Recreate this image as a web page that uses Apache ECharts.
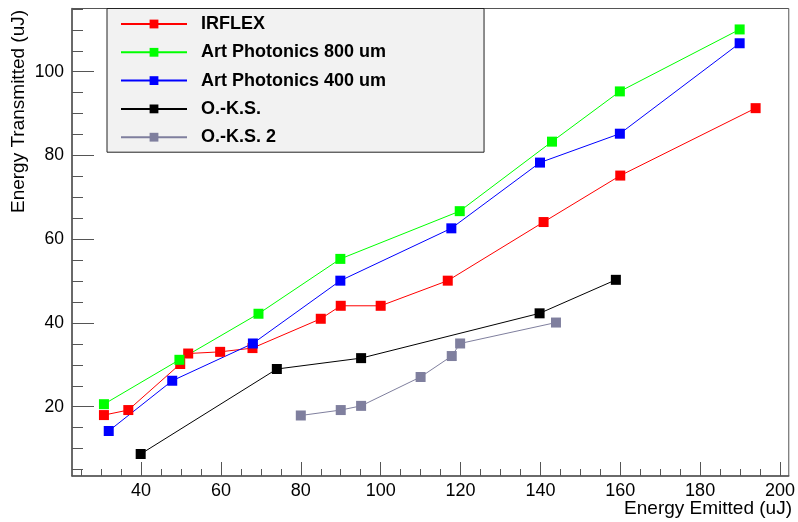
<!DOCTYPE html>
<html>
<head>
<meta charset="utf-8">
<script src="https://cdn.jsdelivr.net/npm/echarts@6/dist/echarts.min.js"></script>
<style>html,body{margin:0;padding:0;background:#fff;}#c{width:798px;height:522px;}</style>
</head>
<body>
<div id="c"></div>
<script>
// ---- data ----
const seriesNames = ['IRFLEX', 'Art Photonics 800 um', 'Art Photonics 400 um', 'O.-K.S.', 'O.-K.S. 2'];
const irflex = [[30.7,18.0],[36.8,19.2],[49.8,30.2],[51.8,32.7],[59.8,33.1],[67.9,34.0],[85.0,41.0],[90.0,44.1],[100.0,44.1],[116.8,50.1],[140.8,64.1],[160.0,75.2],[193.9,91.3]];
const art800 = [[30.7,20.6],[49.6,31.2],[69.4,42.2],[89.9,55.3],[119.8,66.7],[142.9,83.3],[159.9,95.3],[189.9,110.1]];
const art400 = [[31.9,14.2],[47.8,26.2],[68.0,35.1],[89.9,50.1],[117.7,62.6],[139.9,78.3],[159.9,85.2],[189.9,106.8]];
const oks = [[39.9,8.7],[74.0,29.0],[95.1,31.6],[139.8,42.3],[158.9,50.3]];
const oks2 = [[80.0,17.9],[90.0,19.2],[95.1,20.2],[110.0,27.1],[117.8,32.1],[119.9,35.1],[143.9,40.1]];
const xMajorTicks = [40,60,80,100,120,140,160,180,200];
const xMinorTicks = [25,30,35,40,45,50,55,60,65,70,75,80,85,90,95,100,105,110,115,120,125,130,135,140,145,150,155,160,165,170,175,180,185,190,195,200];
const yMajorTicks = [20,40,60,80,100];
const yMinorTicks = [5,10,15,20,25,30,35,40,45,50,55,60,65,70,75,80,85,90,95,100,105,110,115];
const xTitle = 'Energy Emitted (uJ)';
const yTitle = 'Energy Transmitted (uJ)';
const colors = ['#ff0000', '#00ff00', '#0000ff', '#000000', '#7f7f9e'];
const seriesData = [irflex, art800, art400, oks, oks2];

const FONT = '"Liberation Sans", Arial, Helvetica, sans-serif';
const X_MIN = 22.7, X_MAX = 202.2, Y_MIN = 3.45, Y_MAX = 115.1;
const axisColor = '#555';

const chart = echarts.init(document.getElementById('c'), null, {renderer: 'canvas'});

function xAx(major) {
  return {
    type: 'value', min: X_MIN, max: X_MAX, position: 'bottom',
    axisLine: {show: major, onZero: false, lineStyle: {color: axisColor, width: 1.5}},
    axisTick: {show: true, inside: true, length: major ? 14 : 7, lineStyle: {color: axisColor, width: 1},
               customValues: major ? xMajorTicks : xMinorTicks},
    axisLabel: major ? {show: true, customValues: xMajorTicks, fontSize: 18, color: '#000', fontFamily: FONT, margin: 6.5}
                     : {show: false},
    splitLine: {show: false}
  };
}
function yAx(major) {
  return {
    type: 'value', min: Y_MIN, max: Y_MAX, position: 'left',
    axisLine: {show: major, onZero: false, lineStyle: {color: axisColor, width: 1.5}},
    axisTick: {show: true, inside: true, length: major ? 22 : 11, lineStyle: {color: axisColor, width: 1},
               customValues: major ? yMajorTicks : yMinorTicks},
    axisLabel: major ? {show: true, customValues: yMajorTicks, fontSize: 17.5, color: '#000', fontFamily: FONT, margin: 8}
                     : {show: false},
    splitLine: {show: false}
  };
}

const option = {
  animation: false,
  backgroundColor: '#fff',
  grid: {left: 72, top: 8.5, right: 6, bottom: 46, show: true, borderColor: axisColor, borderWidth: 1, backgroundColor: 'transparent'},
  xAxis: [xAx(true), xAx(false)],
  yAxis: [yAx(true), yAx(false)],
  legend: {
    orient: 'vertical', left: 107, top: 8.5,
    backgroundColor: '#f2f2f2', borderColor: '#222', borderWidth: 1,
    padding: [6.5, 98, 6, 13],
    itemWidth: 66, itemHeight: 11, itemGap: 10.3,
    textStyle: {fontSize: 18, fontWeight: 'bold', color: '#000', fontFamily: FONT, lineHeight: 18, padding: [0, 0, 0, 9]},
    data: seriesNames
  },
  series: seriesNames.map((n, i) => ({
    name: n, type: 'line', xAxisIndex: 0, yAxisIndex: 0,
    data: seriesData[i],
    symbol: 'rect', symbolSize: 10,
    lineStyle: {color: colors[i], width: 1},
    itemStyle: {color: colors[i]},
    emphasis: {disabled: true}
  })),
  graphic: [
    {type: 'text', x: 792, y: 509, style: {text: xTitle, fontSize: 19, fontFamily: FONT, fill: '#000', align: 'right', verticalAlign: 'middle'}},
    {type: 'text', x: 19, y: 111.5, rotation: Math.PI / 2, style: {text: yTitle, fontSize: 19, fontFamily: FONT, fill: '#000', align: 'center', verticalAlign: 'middle'}}
  ]
};
chart.setOption(option);
</script>
</body>
</html>
